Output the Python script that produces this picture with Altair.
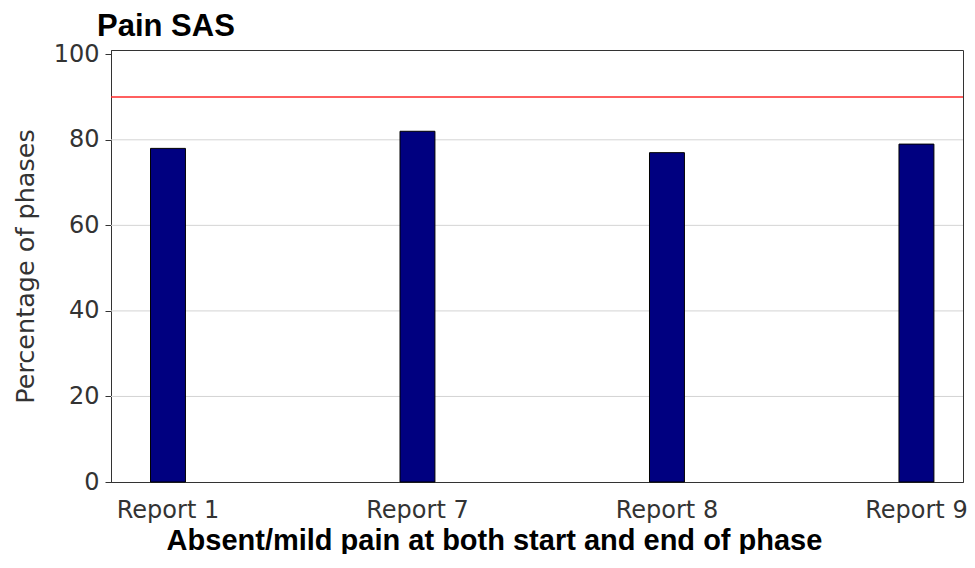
import altair as alt
import pandas as pd

categories = ["Report 1", "Report 7", "Report 8", "Report 9"]
values = [78, 82, 77, 79]
target = [90]
grid_values = [20, 40, 60, 80]
y_ticks = [0, 20, 40, 60, 80, 100]

bars_df = pd.DataFrame({"report": categories, "pct": values})
grid_df = pd.DataFrame({"g": grid_values})
target_df = pd.DataFrame({"t": target})

yscale = alt.Scale(domain=[0, 101], nice=False, zero=True)
xscale = alt.Scale(domain=categories, paddingInner=0.86, paddingOuter=0.1375, align=0.576)

grid = alt.Chart(grid_df).mark_rule(color="#d4d4d4", strokeWidth=1).encode(
    y=alt.Y("g:Q", scale=yscale)
)

bars = alt.Chart(bars_df).mark_bar(fill="#000080", stroke="#000000", strokeWidth=1).encode(
    x=alt.X(
        "report:N",
        scale=xscale,
        sort=categories,
        axis=alt.Axis(
            title="Absent/mild pain at both start and end of phase",
            labelAngle=0,
            ticks=False,
            labelPadding=16,
            labelFont="DejaVu Sans",
            labelFontSize=24,
            labelColor="#333333",
            titleFont="Liberation Sans",
            titleFontSize=29,
            titleFontWeight="bold",
            titleColor="#000000",
            titleX=383,
            titleY=67,
            titleAlign="center",
            titleBaseline="alphabetic",
            domainColor="#333333",
        ),
    ),
    y=alt.Y(
        "pct:Q",
        scale=yscale,
        axis=alt.Axis(
            title="Percentage of phases",
            values=y_ticks,
            grid=False,
            tickSize=6,
            tickColor="#333333",
            labelPadding=6,
            labelFont="DejaVu Sans",
            labelFontSize=24,
            labelColor="#333333",
            titleFont="DejaVu Sans",
            titleFontSize=25.5,
            titleFontWeight="normal",
            titleColor="#333333",
            titleAngle=-90,
            titleX=-78,
            titleY=216,
            titleAlign="center",
            titleBaseline="alphabetic",
            domainColor="#333333",
        ),
    ),
)

rule = alt.Chart(target_df).mark_rule(color="#ff2a2a", strokeWidth=1.5).encode(
    y=alt.Y("t:Q", scale=yscale)
)

chart = (
    alt.layer(grid, bars, rule)
    .properties(
        width=852,
        height=432,
        title=alt.TitleParams(
            "Pain SAS",
            anchor="start",
            frame="group",
            font="Liberation Sans",
            fontSize=31,
            fontWeight="bold",
            color="#000000",
            dx=-14,
            dy=1,
            offset=0,
        ),
        autosize=alt.AutoSizeParams(type="none"),
        padding={"left": 103, "top": 42, "right": 4, "bottom": 72},
    )
    .configure(background="#ffffff")
    .configure_view(stroke="#333333", strokeWidth=1)
)

chart.save("out.html", embed_options={"renderer": "svg", "actions": False})
